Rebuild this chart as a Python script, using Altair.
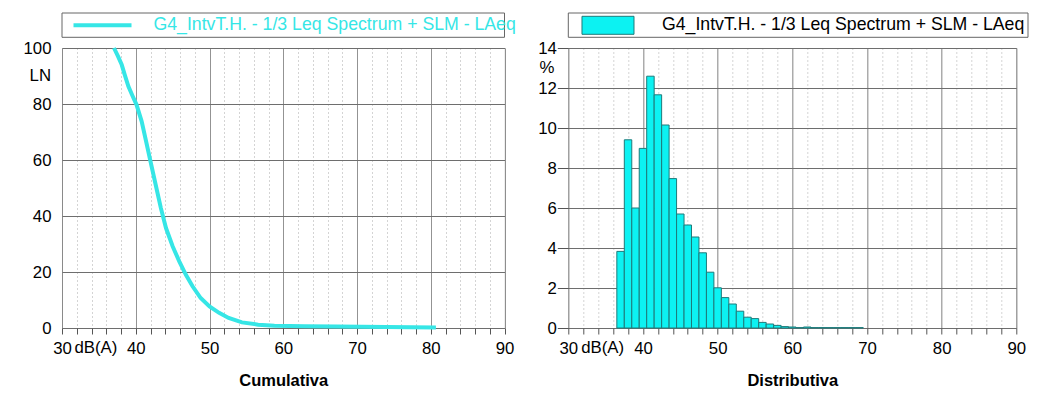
import altair as alt
import pandas as pd

# ---------------- data ----------------
cum_db = [37.05, 37.6, 38.1, 38.5, 39.0, 39.6, 40.1, 40.8, 41.4, 42.1, 42.8, 43.4, 44.1,
          45.0, 45.9, 46.8, 47.7, 48.8, 50.0, 51.3, 52.6, 54.4, 56.6, 58.8, 62.9, 67.3,
          74.0, 80.7]
cum_ln = [100, 97, 94, 90.5, 86.3, 82.7, 79.8, 73.8, 66.7, 58.3, 50, 42.9, 35.7,
          29.2, 23.8, 19.0, 14.9, 10.7, 7.7, 5.4, 3.6, 2.0, 1.2, 0.8, 0.6, 0.5,
          0.35, 0.2]

dist_center = list(range(37, 70))
dist_pct = [3.83, 9.41, 6.00, 8.98, 12.59, 11.66, 10.15, 7.47, 5.70, 5.15, 4.55, 3.76,
            2.79, 2.01, 1.52, 1.20, 0.84, 0.54, 0.47, 0.28, 0.20, 0.13, 0.07, 0.05,
            0.02, 0.05, 0.02, 0.02, 0.02, 0.02, 0.02, 0.02, 0.02]

x_ticks = list(range(30, 91, 2))
ln_ticks = [0, 20, 40, 60, 80, 100]
pct_ticks = [0, 2, 4, 6, 8, 10, 12, 14]
legend_label = "G4_IntvT.H. - 1/3 Leq Spectrum + SLM - LAeq"

cum_df = pd.DataFrame({"db": cum_db, "ln": cum_ln})
dist_df = pd.DataFrame({"lo": [c - 0.5 for c in dist_center],
                        "hi": [c + 0.5 for c in dist_center],
                        "pct": dist_pct})
one = pd.DataFrame({"k": [0]})

FONT = "Liberation Sans"
LINE_C = "#36E6E6"
BAR_C = "#0CF2F2"
BAR_S = "#1E7A7A"
GRID_MAJ = "#6E6E6E"
GRID_MIN = "#A8A8A8"

major = "datum.value % 10 == 0"


def x_axis(title):
    return alt.Axis(values=x_ticks, tickCount=len(x_ticks),
                    labelExpr="datum.value % 10 == 0 ? datum.label : ''",
                    labelFlush=False, labelOverlap=False, labelBound=False,
                    tickSize=6, tickColor="#555", domain=False,
                    grid=True,
                    gridColor=alt.condition(major, alt.value(GRID_MAJ), alt.value(GRID_MIN)),
                    gridDash=alt.condition(major, alt.value([1, 0]), alt.value([1, 3])),
                    labelFontSize=16.8, labelPadding=6, labelColor="black",
                    title=title, titleFontWeight="bold", titleFontSize=16.5,
                    titlePadding=16, titleColor="black")


W1, W2, H = 442.5, 448, 280

# ---------------- left: Cumulativa ----------------
xs1 = alt.Scale(domain=[30, 90], nice=False, zero=False)
ys1 = alt.Scale(domain=[0, 100], nice=False)

line = alt.Chart(cum_df).mark_line(color=LINE_C, strokeWidth=4).encode(
    x=alt.X("db:Q", scale=xs1, axis=x_axis("Cumulativa")),
    y=alt.Y("ln:Q", scale=ys1,
            axis=alt.Axis(values=ln_ticks, tickCount=len(ln_ticks), ticks=False,
                          domain=False, grid=True,
                          gridColor=GRID_MAJ, labelFontSize=16.8, labelPadding=11,
                          labelColor="black", title=None)),
)

box1 = alt.Chart(one).mark_rect(fill="white", stroke="#666", strokeWidth=1).encode(
    x=alt.value(0), x2=alt.value(W1), y=alt.value(-35), y2=alt.value(-10.7))
sym1 = alt.Chart(one).mark_rule(color=LINE_C, strokeWidth=4).encode(
    x=alt.value(11.5), x2=alt.value(69.5), y=alt.value(-22.7))
txt1 = alt.Chart(one).mark_text(text=legend_label, align="left", baseline="middle",
                                font=FONT, fontSize=17.7, color=LINE_C).encode(
    x=alt.value(91.5), y=alt.value(-23))
ln_lbl = alt.Chart(one).mark_text(text="LN", align="right", baseline="middle",
                                  font=FONT, fontSize=16.8, color="black").encode(
    x=alt.value(-11), y=alt.datum(90))
db_lbl1 = alt.Chart(one).mark_text(text="dB(A)", align="center", baseline="top",
                                   font=FONT, fontSize=16.8, color="black").encode(
    x=alt.datum(34.6), y=alt.value(H + 12))

left = alt.layer(box1, sym1, txt1, line, ln_lbl, db_lbl1).properties(width=W1, height=H)

# ---------------- right: Distributiva ----------------
xs2 = alt.Scale(domain=[30, 90], nice=False, zero=False)
ys2 = alt.Scale(domain=[0, 14], nice=False)

bars = alt.Chart(dist_df).mark_rect(fill=BAR_C, stroke=BAR_S, strokeWidth=1).encode(
    x=alt.X("lo:Q", scale=xs2, axis=x_axis("Distributiva")),
    x2="hi:Q",
    y=alt.Y("pct:Q", scale=ys2,
            axis=alt.Axis(values=pct_ticks, tickCount=len(pct_ticks), tickSize=11,
                          tickColor="#555", domain=False,
                          grid=True, gridColor=GRID_MAJ, labelFontSize=16.8,
                          labelPadding=1, labelColor="black", title=None)),
    y2=alt.datum(0),
)

box2 = alt.Chart(one).mark_rect(fill="white", stroke="#666", strokeWidth=1).encode(
    x=alt.value(0), x2=alt.value(459.7), y=alt.value(-35), y2=alt.value(-10.7))
sym2 = alt.Chart(one).mark_rect(fill=BAR_C, stroke=BAR_S, strokeWidth=1).encode(
    x=alt.value(13.7), x2=alt.value(65.7), y=alt.value(-31.7), y2=alt.value(-13.7))
txt2 = alt.Chart(one).mark_text(text=legend_label, align="left", baseline="middle",
                                font=FONT, fontSize=17.7, color="black").encode(
    x=alt.value(93.7), y=alt.value(-23))
pct_lbl = alt.Chart(one).mark_text(text="%", align="right", baseline="middle",
                                   font=FONT, fontSize=16.8, color="black").encode(
    x=alt.value(-14), y=alt.datum(13))
db_lbl2 = alt.Chart(one).mark_text(text="dB(A)", align="center", baseline="top",
                                   font=FONT, fontSize=16.8, color="black").encode(
    x=alt.datum(34.6), y=alt.value(H + 12))

right = alt.layer(box2, sym2, txt2, bars, pct_lbl, db_lbl2).properties(width=W2, height=H)

chart = alt.hconcat(left, right, spacing=63.3, bounds="flush").properties(
    padding={"left": 14, "top": 4, "right": 0, "bottom": 0}
).configure_view(stroke="#6A6A6A", strokeWidth=1).configure(
    font=FONT
).configure_axis(labelFont=FONT, titleFont=FONT)

chart.save("out.html", embed_options={"renderer": "svg", "actions": False})
